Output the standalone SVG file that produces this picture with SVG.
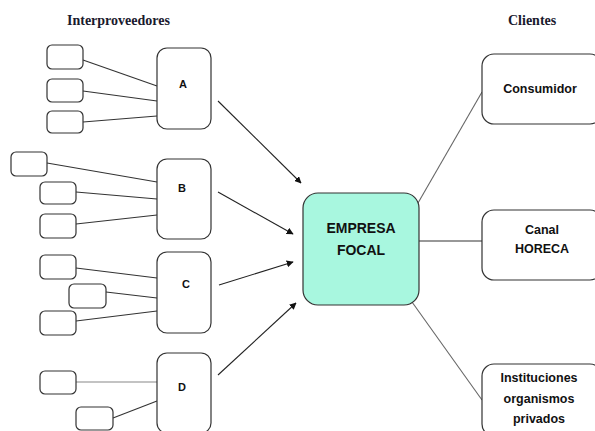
<svg xmlns="http://www.w3.org/2000/svg" width="595" height="431" viewBox="0 0 595 431">
<defs>
<marker id="arr" viewBox="0 0 10 10" refX="9" refY="5" markerWidth="7" markerHeight="7" markerUnits="userSpaceOnUse" orient="auto">
<path d="M0,0 L10,5 L0,10 z" fill="#111"/>
</marker>
</defs>
<style>
.sm{fill:#fff;stroke:#333;stroke-width:1.2}
.mid{fill:#fff;stroke:#333;stroke-width:1.2}
.cl{fill:#fff;stroke:#333;stroke-width:1.2}
.foc{fill:#a8f7df;stroke:#333;stroke-width:1.2}
.ln{stroke:#333;stroke-width:1.1;fill:none}
.gl{stroke:#888;stroke-width:1.1;fill:none}
.cg{stroke:#666;stroke-width:1.1;fill:none}
.ar{stroke:#222;stroke-width:1.1;fill:none;marker-end:url(#arr)}
.ttl{font-family:"Liberation Serif",serif;font-weight:bold;font-size:14px;fill:#1a1a2e}
.lb{font-family:"Liberation Sans",Arial,sans-serif;font-weight:bold;font-size:11px;fill:#111;text-anchor:middle}
.cb{font-family:"Liberation Sans",Arial,sans-serif;font-weight:bold;font-size:12.5px;fill:#111;text-anchor:middle}
.fb{font-family:"Liberation Sans",Arial,sans-serif;font-weight:bold;font-size:14px;fill:#111;text-anchor:middle}
</style>
<text class="ttl" x="67" y="25">Interproveedores</text>
<text class="ttl" x="508" y="25">Clientes</text>

<g id="connectors">
<line class="ln" x1="83" y1="60" x2="157" y2="86"/>
<line class="ln" x1="83" y1="91" x2="157" y2="101"/>
<line class="ln" x1="83" y1="122" x2="157" y2="116"/>
<line class="ln" x1="47" y1="163" x2="157" y2="182"/>
<line class="ln" x1="76" y1="192" x2="157" y2="199"/>
<line class="ln" x1="76" y1="224" x2="157" y2="215"/>
<line class="ln" x1="76" y1="268" x2="157" y2="278"/>
<line class="ln" x1="106" y1="292" x2="157" y2="298"/>
<line class="ln" x1="76" y1="321" x2="157" y2="311"/>
<line class="gl" x1="76" y1="382" x2="157" y2="382"/>
<line class="ln" x1="113" y1="418" x2="157" y2="401"/>
<line class="ar" x1="218" y1="101" x2="301" y2="183"/>
<line class="ar" x1="218" y1="192" x2="293" y2="234"/>
<line class="ar" x1="219" y1="285" x2="293" y2="262"/>
<line class="ar" x1="218" y1="375" x2="296" y2="303"/>
<line class="cg" x1="418" y1="203" x2="482" y2="92"/>
<line class="ln" x1="419" y1="241" x2="482" y2="241"/>
<line class="cg" x1="412" y1="302" x2="482" y2="400"/>
</g>

<g id="a1"><rect class="sm" x="47" y="45" width="36" height="24" rx="5"/></g>
<g id="a2"><rect class="sm" x="47" y="79" width="36" height="23" rx="5"/></g>
<g id="a3"><rect class="sm" x="47" y="111" width="36" height="22" rx="5"/></g>
<g id="b1"><rect class="sm" x="11" y="152" width="36" height="24" rx="5"/></g>
<g id="b2"><rect class="sm" x="40" y="182" width="36" height="22" rx="5"/></g>
<g id="b3"><rect class="sm" x="40" y="214" width="36" height="24" rx="5"/></g>
<g id="c1"><rect class="sm" x="40" y="255" width="36" height="24" rx="5"/></g>
<g id="c2"><rect class="sm" x="69" y="284" width="37" height="24" rx="5"/></g>
<g id="c3"><rect class="sm" x="40" y="311" width="36" height="24" rx="5"/></g>
<g id="d1"><rect class="sm" x="40" y="371" width="36" height="23" rx="5"/></g>
<g id="d2"><rect class="sm" x="76" y="407" width="37" height="23" rx="5"/></g>

<g id="A"><rect class="mid" x="157" y="48" width="54" height="81" rx="10"/><text class="lb" x="183" y="88">A</text></g>
<g id="B"><rect class="mid" x="157" y="159" width="54" height="80" rx="10"/><text class="lb" x="182" y="192">B</text></g>
<g id="C"><rect class="mid" x="157" y="252" width="54" height="81" rx="10"/><text class="lb" x="186" y="288">C</text></g>
<g id="D"><rect class="mid" x="157" y="353" width="54" height="80" rx="10"/><text class="lb" x="182" y="391">D</text></g>

<g id="focal"><rect class="foc" x="303" y="193" width="116" height="112" rx="15"/>
<text class="fb" x="361" y="233">EMPRESA</text><text class="fb" x="361" y="255">FOCAL</text></g>

<g id="consumidor"><rect class="cl" x="482" y="54" width="120" height="70" rx="12"/><text class="cb" x="540" y="93">Consumidor</text></g>
<g id="horeca"><rect class="cl" x="482" y="210" width="120" height="70" rx="12"/><text class="cb" x="542" y="234">Canal</text><text class="cb" x="542" y="253">HORECA</text></g>
<g id="inst"><rect class="cl" x="482" y="364" width="120" height="72" rx="12"/><text class="cb" x="539" y="382">Instituciones</text><text class="cb" x="539" y="403">organismos</text><text class="cb" x="539" y="423">privados</text></g>
</svg>
